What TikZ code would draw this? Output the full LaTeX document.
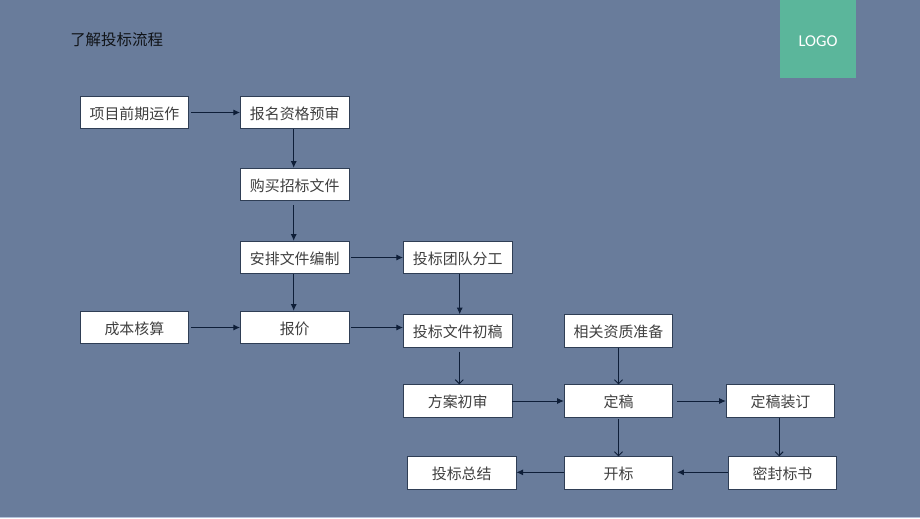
\documentclass[tikz,border=0pt]{standalone}
\usepackage{fontspec}
\setmainfont{Noto Sans CJK SC}
\newfontfamily\logofont{Carlito}
\usetikzlibrary{arrows.meta}
\definecolor{bgblue}{HTML}{697C9B}
\definecolor{logogreen}{HTML}{5BB69B}
\definecolor{linedark}{HTML}{0E1E38}
\definecolor{boxline}{HTML}{2F3E55}
\definecolor{stripblue}{HTML}{B4C3DC}
\tikzset{
  stepbox/.style={draw=boxline, fill=white, line width=.6pt, minimum width=81.4pt, minimum height=24.4pt, inner sep=0pt, text=black!75, text height=11pt, text depth=1pt, font=\fontsize{11.2}{13}\selectfont},
  solidline/.style={-{Latex[length=5pt,width=4.5pt]}, draw=linedark, line width=.7pt},
  openline/.style={-{Straight Barb[length=3pt,width=6pt]}, draw=linedark, line width=.7pt}
}
\begin{document}
\begin{tikzpicture}[x=.75pt, y=-.75pt]
      \fill[bgblue] (0,0) rectangle (920,518);
      \fill[stripblue] (0,516.8) rectangle (920,518);
      \useasboundingbox (0,0) rectangle (920,518);

      % heading and logo
      \node[anchor=west, inner sep=0pt, text=black!85!bgblue, font=\fontsize{11.6}{14}\selectfont] (title) at (70,40) {了解投标流程};
      \node[fill=logogreen, minimum width=57pt, minimum height=58.5pt, inner sep=0pt, text=white, text height=12pt, text depth=.6pt, font=\logofont\fontsize{12.4}{14}\selectfont] (logo) at (818,39) {LOGO};

      % boxes
      \foreach \name/\x/\y/\txt in {
        xm/134.4/112.5/项目前期运作, bm/294.7/112.5/报名资格预审, gm/294.7/184.5/购买招标文件,
        ap/294.7/257.5/安排文件编制, td/457.7/257.5/投标团队分工, cb/134.4/327.5/成本核算,
        bj/294.7/327.5/报价, cg/457.7/331/投标文件初稿, zz/618.5/331/相关资质准备,
        fa/457.7/401/方案初审, dg/618.5/401/定稿, zd/780.5/401/定稿装订,
        zj/461.7/473/投标总结, kb/618.5/473/开标, mf/782.5/473/密封标书}
      {
        \node[stepbox](\name) at (\x,\y) {\txt};
      }

      % arrows
      \draw[solidline, shorten <=1.5pt] (xm) -- (bm);
      \draw[solidline] ([xshift=-.75pt]bm.south) -- ([xshift=-.75pt]gm.north);
      \draw[solidline, shorten <=3pt] ([xshift=-.75pt]gm.south) -- ([xshift=-.75pt]ap.north);
      \draw[solidline] ([xshift=-.75pt]ap.south) -- ([xshift=-.75pt]bj.north);
      \draw[solidline, shorten <=1.5pt] (ap) -- (td);
      \draw[solidline, shorten <=1.5pt] (cb) -- (bj);
      \draw[solidline, shorten <=1.5pt] (bj.east) -- (bj.east -| cg.west);
      \draw[solidline] ([xshift=1.5pt]td.south) -- ([xshift=1.5pt]cg.north);
      \draw[openline, shorten <=3pt] ([xshift=1.2pt]cg.south) -- ([xshift=1.2pt]fa.north);
      \draw[openline] (zz) -- (dg);
      \draw[solidline] (fa) -- (dg);
      \draw[solidline, shorten <=3pt] (dg) -- (zd);
      \draw[openline, shorten <=1pt] (dg) -- (kb);
      \draw[openline] ([xshift=-1pt]zd.south) -- ([xshift=-1pt]zd.south |- mf.north);
      \draw[solidline] ([yshift=.5pt]kb.west) -- ([yshift=.5pt]zj.east);
      \draw[solidline, shorten >=3pt] ([yshift=.5pt]mf.west) -- ([yshift=.5pt]kb.east);
    \end{tikzpicture}
\end{document}
